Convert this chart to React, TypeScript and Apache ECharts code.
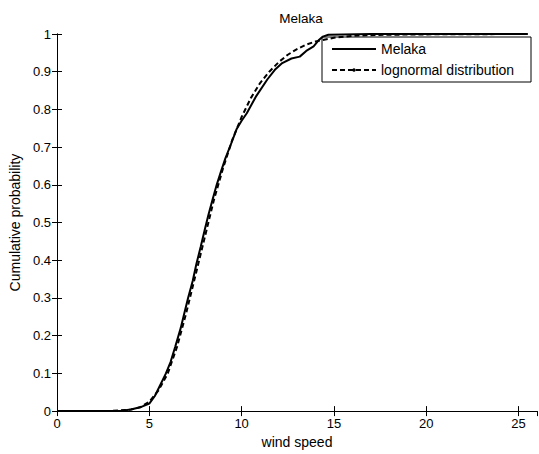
import React, { useEffect, useRef } from "react";
import * as echarts from "echarts";

const titleText = "Melaka";
const xName = "wind speed";
const yName = "Cumulative probability";
const seriesNames = ["Melaka", "lognormal distribution"];

// Empirical CDF readings (wind speed, probability)
const melakaX = [0, 3.5, 4.0, 4.5, 5.0, 5.3, 5.6, 5.9, 6.15, 6.4, 6.7, 6.9, 7.1, 7.35, 7.55, 7.78, 8.0, 8.2, 8.42, 8.65, 8.88, 9.12, 9.4, 9.74, 10.0, 10.28, 10.8, 11.4, 11.8, 12.2, 12.7, 13.15, 13.5, 13.9, 14.2, 14.4, 14.7, 15.5, 17, 25.5];
const melakaY = [0, 0.001, 0.004, 0.01, 0.02, 0.04, 0.07, 0.1, 0.13, 0.17, 0.22, 0.26, 0.3, 0.345, 0.39, 0.435, 0.48, 0.52, 0.56, 0.6, 0.635, 0.67, 0.705, 0.749, 0.77, 0.79, 0.836, 0.88, 0.905, 0.923, 0.935, 0.94, 0.955, 0.967, 0.985, 0.993, 0.998, 0.999, 1.0, 1.0];

// Lognormal fit readings
const lognX = [0, 1, 3, 4, 4.5, 5, 5.5, 6, 6.5, 7, 7.5, 8, 8.5, 9, 9.5, 10, 10.5, 11, 11.5, 12, 12.5, 13, 13.5, 14, 15, 16, 17, 18, 20, 25.5];
const lognY = [0, 0, 0.0005, 0.004, 0.01, 0.025, 0.055, 0.1, 0.17, 0.26, 0.36, 0.46, 0.56, 0.645, 0.72, 0.78, 0.83, 0.87, 0.9, 0.925, 0.945, 0.96, 0.972, 0.98, 0.99, 0.995, 0.997, 0.998, 0.999, 1.0];

const xMin = 0, xMax = 26, xStep = 5;
const yMin = 0, yMax = 1, yStep = 0.1;

export default function App() {
  const ref = useRef<HTMLDivElement>(null);
  useEffect(() => {
    if (!ref.current) return;
    const chart = echarts.init(ref.current, null, { renderer: "svg" });
    const font = "Liberation Sans, Arial, sans-serif";
    const axisCommon = {
      axisLine: { show: true, lineStyle: { color: "#000", width: 1 } },
      axisTick: { show: true, inside: true, length: 5, lineStyle: { color: "#000" } },
      splitLine: { show: false },
    };
    const lgX = 322, lgY = 37, lgW = 209, lgH = 45;
    chart.setOption({
      animation: false,
      backgroundColor: "#fff",
      textStyle: { fontFamily: font },
      title: {
        text: titleText,
        left: 296,
        textAlign: "center",
        top: 6,
        textStyle: { fontSize: 13.5, fontWeight: "normal", color: "#000", fontFamily: font },
      },
      grid: { left: 56, top: 34, right: 2, bottom: 38, containLabel: false },
      xAxis: [
        {
          type: "value",
          min: xMin,
          max: xMax,
          interval: xStep,
          name: xName,
          nameLocation: "middle",
          nameGap: 23,
          nameTextStyle: { fontSize: 14, color: "#000", fontFamily: font },
          axisLabel: { color: "#000", fontSize: 13, margin: 6, showMaxLabel: false, fontFamily: font },
          ...axisCommon,
        },
        {
          type: "value",
          position: "top",
          min: xMin,
          max: xMax,
          interval: xStep,
          axisLabel: { show: false },
          ...axisCommon,
        },
      ],
      yAxis: [
        {
          type: "value",
          min: yMin,
          max: yMax,
          interval: yStep,
          name: yName,
          nameLocation: "middle",
          nameGap: 35,
          nameTextStyle: { fontSize: 14, color: "#000", fontFamily: font },
          axisLabel: { color: "#000", fontSize: 13, margin: 6, fontFamily: font },
          ...axisCommon,
        },
        {
          type: "value",
          position: "right",
          min: yMin,
          max: yMax,
          interval: yStep,
          axisLabel: { show: false },
          ...axisCommon,
        },
      ],
      graphic: [
        {
          type: "group",
          z: 100,
          children: [
            { type: "rect", shape: { x: lgX, y: lgY, width: lgW, height: lgH }, style: { fill: "#fff", stroke: "#000", lineWidth: 1 } },
            { type: "line", shape: { x1: lgX + 10, y1: lgY + 12, x2: lgX + 54, y2: lgY + 12 }, style: { stroke: "#000", lineWidth: 2 } },
            { type: "text", x: lgX + 59, y: lgY + 12, style: { text: seriesNames[0], fontSize: 14, fill: "#000", fontFamily: font, verticalAlign: "middle" } },
            { type: "line", shape: { x1: lgX + 10, y1: lgY + 33, x2: lgX + 54, y2: lgY + 33 }, style: { stroke: "#000", lineWidth: 2, lineDash: [5, 3] } },
            { type: "circle", shape: { cx: lgX + 32, cy: lgY + 33, r: 1.8 }, style: { fill: "#000" } },
            { type: "text", x: lgX + 59, y: lgY + 33, style: { text: seriesNames[1], fontSize: 14, fill: "#000", fontFamily: font, verticalAlign: "middle" } },
          ],
        },
      ],
      series: [
        {
          name: seriesNames[0],
          type: "line",
          showSymbol: false,
          symbol: "none",
          data: melakaX.map((x, i) => [x, melakaY[i]]),
          lineStyle: { color: "#000", width: 2 },
          itemStyle: { color: "#000" },
          z: 3,
        },
        {
          name: seriesNames[1],
          type: "line",
          showSymbol: false,
          symbol: "none",
          data: lognX.map((x, i) => [x, lognY[i]]),
          lineStyle: { color: "#000", width: 2, type: [5, 3] },
          itemStyle: { color: "#000" },
          z: 2,
        },
      ],
    });
    return () => chart.dispose();
  }, []);
  return (
    <div
      ref={ref}
      style={{ position: "fixed", left: 0, top: 0, width: 539, height: 454 }}
    />
  );
}
